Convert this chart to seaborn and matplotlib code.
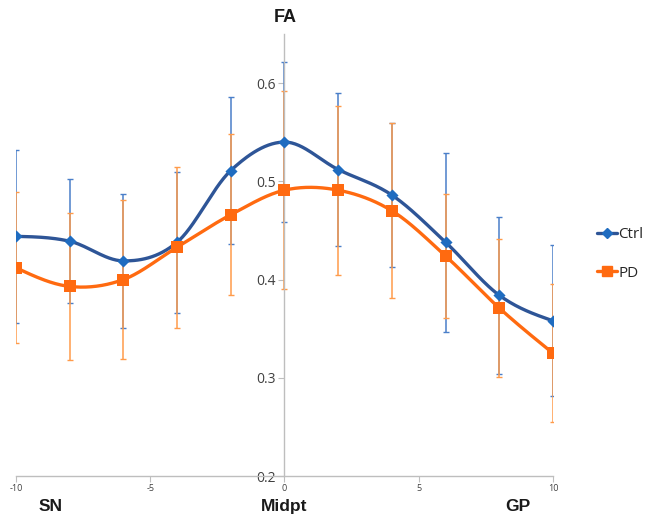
import numpy as np
import pandas as pd
import matplotlib
matplotlib.use("Agg")
import matplotlib.pyplot as plt
import seaborn as sns
from matplotlib.lines import Line2D
from matplotlib import font_manager

# ---- data ----
positions = [-10, -8, -6, -4, -2, 0, 2, 4, 6, 8, 10]
ctrl_fa = [0.444, 0.439, 0.419, 0.438, 0.511, 0.540, 0.512, 0.486, 0.438, 0.384, 0.358]
ctrl_err = [0.088, 0.063, 0.068, 0.072, 0.075, 0.081, 0.078, 0.073, 0.091, 0.080, 0.077]
pd_fa = [0.412, 0.393, 0.400, 0.433, 0.466, 0.491, 0.491, 0.470, 0.424, 0.371, 0.325]
pd_err = [0.077, 0.075, 0.081, 0.082, 0.082, 0.101, 0.086, 0.089, 0.063, 0.070, 0.070]
x_ticks = [-10, -5, 0, 5, 10]
y_ticks = [0.2, 0.3, 0.4, 0.5, 0.6]
region_labels = ["SN", "Midpt", "GP"]
region_pos = [-8.7, 0, 8.7]

sns.set_style("white")
plt.rcParams['font.family'] = ['DejaVu Sans']

names = {f.name for f in font_manager.fontManager.ttflist}
bold_family = ['Liberation Sans Narrow'] if 'Liberation Sans Narrow' in names else ['Liberation Sans', 'DejaVu Sans']
lab_family = ['Open Sans', 'DejaVu Sans'] if 'Open Sans' in names else ['DejaVu Sans']


def smooth(xs, ys, n=30):
    # Cubic Hermite (Catmull-Rom interior tangents, natural ends) for drawing a smoothed line
    P = np.column_stack([np.asarray(xs, float), np.asarray(ys, float)])
    m = np.zeros_like(P)
    m[1:-1] = (P[2:] - P[:-2]) / 2
    m[0] = (3 * (P[1] - P[0]) - m[1]) / 2
    m[-1] = (3 * (P[-1] - P[-2]) - m[-2]) / 2
    t = np.linspace(0, 1, n, endpoint=False)[:, None]
    h00 = 2 * t**3 - 3 * t**2 + 1
    h10 = t**3 - 2 * t**2 + t
    h01 = -2 * t**3 + 3 * t**2
    h11 = t**3 - t**2
    out = []
    for i in range(len(P) - 1):
        out.append(h00 * P[i] + h10 * m[i] + h01 * P[i + 1] + h11 * m[i + 1])
    out.append(P[-1][None, :])
    return np.vstack(out)


fig = plt.figure(figsize=(6.47, 5.15), dpi=100)
ax = fig.add_axes([0.0247, 0.0757, 0.8300, 0.8583])

ctrl_line = "#2E5597"
ctrl_mark = "#1F6CC0"
ctrl_errc = "#4A7FC9"
pd_line = "#FF6A10"
pd_mark = "#FF6A10"
pd_errc = "#FF9B4A"

# error bars
ax.errorbar(positions, ctrl_fa, yerr=ctrl_err, fmt="none", ecolor=ctrl_errc,
            elinewidth=1.1, capsize=2.2, capthick=1.0, zorder=2)
ax.errorbar(positions, pd_fa, yerr=pd_err, fmt="none", ecolor=pd_errc,
            elinewidth=1.1, capsize=2.2, capthick=1.0, zorder=2)

# smoothed lines
cs = smooth(positions, ctrl_fa)
ps = smooth(positions, pd_fa)
df_c = pd.DataFrame({"x": cs[:, 0], "y": cs[:, 1]})
df_p = pd.DataFrame({"x": ps[:, 0], "y": ps[:, 1]})
sns.lineplot(data=df_c, x="x", y="y", ax=ax, color=ctrl_line, lw=2.4, sort=False,
             estimator=None, zorder=3)
sns.lineplot(data=df_p, x="x", y="y", ax=ax, color=pd_line, lw=2.4, sort=False,
             estimator=None, zorder=3)

# markers
dfm = pd.DataFrame({"x": positions, "ctrl": ctrl_fa, "pd": pd_fa})
sns.scatterplot(data=dfm, x="x", y="ctrl", ax=ax, marker="D", s=38, color=ctrl_mark,
                edgecolor=ctrl_mark, linewidth=0, zorder=4)
sns.scatterplot(data=dfm, x="x", y="pd", ax=ax, marker="s", s=70, color=pd_mark,
                edgecolor=pd_mark, linewidth=0, zorder=4)

ax.set_xlim(-10, 10)
ax.set_ylim(0.2, 0.65)
ax.set_xlabel("")
ax.set_ylabel("")

for s in ["top", "right"]:
    ax.spines[s].set_visible(False)
ax.spines["left"].set_position(("data", 0))
ax.spines["left"].set_color("#BEBEBE")
ax.spines["bottom"].set_color("#BEBEBE")
ax.spines["left"].set_linewidth(1.0)
ax.spines["bottom"].set_linewidth(1.0)

ax.set_xticks(x_ticks)
ax.set_xticklabels([str(t) for t in x_ticks], fontsize=6.5, color="#404040",
                   family=lab_family)
ax.set_yticks(y_ticks)
ax.set_yticklabels([f"{t:.1f}" for t in y_ticks], fontsize=10, color="#404040",
                   family=lab_family)
ax.tick_params(axis="both", which="both", direction="out", length=4, width=0.8,
               color="#BEBEBE", left=True, bottom=True)
ax.tick_params(axis="x", pad=2)
ax.tick_params(axis="y", pad=2)

# titles / labels
fig.text(285 / 647, 1 - 18 / 515, "FA", fontsize=13, fontweight="bold",
         ha="center", va="center", color="#1a1a1a", family=bold_family)
for lab, xp in zip(region_labels, region_pos):
    ax.text(xp, -0.07, lab, transform=ax.get_xaxis_transform(), fontsize=12.5,
            fontweight="bold", ha="center", va="center", color="#1a1a1a",
            family=bold_family)

handles = [
    Line2D([0], [0], color=ctrl_line, lw=2.4, marker="D", markersize=5,
           markerfacecolor=ctrl_mark, markeredgecolor=ctrl_mark),
    Line2D([0], [0], color=pd_line, lw=2.4, marker="s", markersize=7,
           markerfacecolor=pd_mark, markeredgecolor=pd_mark),
]
fig.legend(handles, ["Ctrl", "PD"], loc="center left",
           bbox_to_anchor=(597 / 647, 1 - 254 / 515), frameon=False,
           handlelength=1.3, handletextpad=0.1, labelspacing=1.55,
           borderaxespad=0, borderpad=0, prop={'family': lab_family, 'size': 11})

fig.savefig("out.png", dpi=100)
